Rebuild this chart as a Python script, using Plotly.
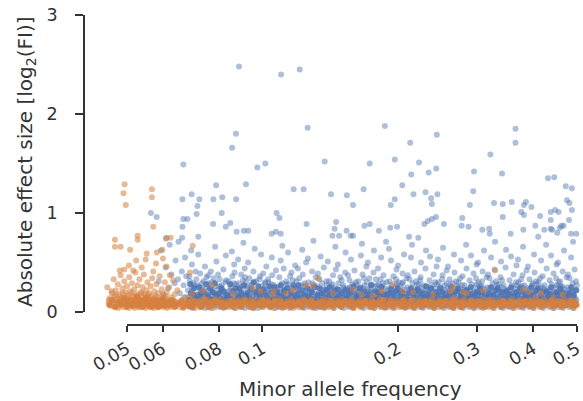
import math
import plotly.graph_objects as go

# ---------------- data ----------------
maf_ticks = [0.05, 0.06, 0.08, 0.1, 0.2, 0.3, 0.4, 0.5]
maf_tick_labels = ["0.05", "0.06", "0.08", "0.1", "0.2", "0.3", "0.4", "0.5"]
effect_ticks = [0, 1, 2, 3]

# blue: (minor allele frequency, absolute effect size)
blue_high = [(.0887,2.48),(.110,2.40),(.121,2.45),(.126,1.86),(.0873,1.80),(.0856,1.66),(.187,1.88),
             (.213,1.71),(.244,1.79),(.365,1.85),(.365,1.71),(.321,1.59),(.0667,1.49),(.0974,1.46),
             (.1015,1.50),(.1375,1.52),(.1731,1.50),(.1968,1.54),(.2141,1.39),(.2228,1.51),(.2341,1.41),
             (.2433,1.45),(.2952,1.42),(.3407,1.40),(.431,1.35),(.445,1.36),(.472,1.27),(.487,1.25)]

blue_mid = [(.0789,1.28),(.0919,1.29),(.0696,1.19),(.0664,1.14),(.0724,1.14),(.0778,1.14),(.0814,1.16),
            (.0874,1.14),(.0717,1.07),(.0714,.99),(.0812,1.00),(.0565,1.00),(.0582,.96),(.0667,.94),
            (.0681,.94),(.0777,.89),(.0848,.90),(.0829,.86),(.0664,.86),(.0909,.82),(.0930,.82),(.0876,.81),
            (.0720,.76),(.0612,.75),(.0663,.75),
            (.1173,1.24),(.1235,1.24),(.142,1.19),(.154,1.18),(.1678,1.24),(.2045,1.28),(.2165,1.19),
            (.1968,1.14),(.1589,1.08),(.1928,1.08),(.1075,1.00),(.1091,.95),(.1253,.89),(.1458,.91),
            (.1685,.87),(.1731,.89),(.1446,.84),(.1815,.82),(.1923,.85),(.1991,.86),(.1048,.79),(.1071,.81),
            (.1098,.79),(.1538,.82),(.143,.77),(.148,.77),(.157,.77),(.159,.77),(.2117,.76),
            (.2304,1.21),(.2447,1.19),(.294,1.22),(.237,1.15),(.238,1.09),(.289,1.08),(.327,1.10),(.342,1.09),
            (.358,1.11),(.381,1.08),(.385,1.11),(.396,1.06),(.376,1.01),(.381,.98),(.475,1.13),(.481,1.10),
            (.447,1.03),(.455,1.01),(.437,1.01),(.414,.97),(.487,1.03),(.480,.93),(.437,.93),(.342,.96),
            (.243,.96),(.238,.94),(.233,.92),(.229,.89),(.253,.89),(.278,.95),(.277,.87),(.287,.86),(.308,.83),
            (.319,.84),(.32,.79),(.356,.79),(.38,.83),(.404,.87),(.423,.83),(.437,.84),(.44,.83),(.458,.85),
            (.462,.87),(.452,.80),(.467,.87),(.485,.79),(.498,.79),(.222,.75),(.41,.76)]

blue_band = [
 (.0588,.31),(.0601,.18),(.0609,.45),(.0595,.62),
 (.0617,.24),(.0628,.38),(.0635,.12),(.0641,.52),(.0622,.68),(.0638,.29),
 (.0649,.33),(.0655,.19),(.0662,.41),(.0668,.27),(.0673,.55),(.0659,.09),(.0677,.36),(.0651,.71),(.0670,.15),
 (.0683,.22),(.0688,.36),(.0692,.13),(.0697,.48),(.0701,.29),(.0706,.18),(.0710,.41),(.0686,.08),(.0699,.25),(.0713,.33),(.0694,.62),(.0704,.11),
 (.0718,.27),(.0722,.16),(.0727,.39),(.0731,.21),(.0736,.09),(.0740,.31),(.0745,.46),(.0749,.14),(.0720,.58),(.0733,.24),(.0742,.19),(.0751,.35),(.0725,.07),
 (.0756,.18),(.0760,.29),(.0764,.12),(.0768,.41),(.0771,.23),(.0775,.08),(.0779,.34),(.0783,.15),(.0787,.26),(.0790,.51),(.0758,.37),(.0773,.2),(.0785,.66),(.0766,.1),
 (.0795,.22),(.0799,.13),(.0803,.33),(.0807,.19),(.0811,.27),(.0815,.06),(.0819,.43),(.0823,.16),(.0827,.3),(.0831,.11),(.0797,.38),(.0813,.24),(.0829,.57),(.0805,.09),
 (.0837,.2),(.0841,.31),(.0845,.14),(.0849,.25),(.0853,.07),(.0857,.36),(.0861,.18),(.0865,.48),(.0869,.12),(.0873,.28),(.0876,.22),(.0839,.1),(.0855,.61),(.0867,.4),
 (.0881,.17),(.0885,.29),(.0889,.09),(.0893,.23),(.0897,.38),(.0901,.14),(.0905,.32),(.0909,.2),(.0913,.44),(.0917,.11),(.0921,.26),(.0883,.53),(.0899,.06),(.0915,.35),(.0907,.7),
 (.0927,.24),(.0931,.13),(.0935,.34),(.0939,.19),(.0943,.08),(.0947,.28),(.0951,.16),(.0955,.41),(.0959,.22),(.0963,.11),(.0967,.31),(.0970,.18),(.0929,.5),(.0949,.05),(.0961,.64),
 (.0975,.21),(.0980,.12),(.0985,.33),(.0990,.17),(.0995,.26),(.1000,.08),(.1004,.39),(.1008,.14),(.1012,.29),(.1016,.2),(.1020,.46),(.0978,.1),(.0993,.58),(.1010,.24),(.0988,.36),
 (.1026,.19),(.1031,.3),(.1036,.11),(.1041,.24),(.1046,.15),(.1051,.37),(.1056,.07),(.1061,.27),(.1066,.18),(.1071,.42),(.1075,.13),(.1029,.33),(.1049,.55),(.1063,.22),(.1039,.09),
 (.1080,.25),(.1085,.14),(.1090,.35),(.1095,.2),(.1100,.1),(.1105,.29),(.1110,.17),(.1115,.44),(.1120,.23),(.1125,.12),(.1130,.31),(.1083,.07),(.1098,.52),(.1117,.19),(.1107,.67),
 (.1137,.18),(.1142,.28),(.1147,.11),(.1152,.36),(.1157,.21),(.1162,.08),(.1167,.32),(.1172,.15),(.1177,.25),(.1182,.47),(.1187,.13),(.1191,.22),(.1140,.6),(.1160,.4),(.1175,.06),
 (.1196,.23),(.1201,.12),(.1207,.34),(.1212,.18),(.1218,.27),(.1223,.09),(.1229,.38),(.1234,.16),(.1240,.29),(.1245,.2),(.1250,.5),(.1254,.13),(.1199,.44),(.1226,.63),(.1215,.07),
 (.1259,.19),(.1265,.3),(.1271,.12),(.1277,.24),(.1283,.15),(.1289,.41),(.1295,.08),(.1301,.27),(.1307,.19),(.1313,.35),(.1319,.11),(.1262,.54),(.1286,.22),(.1310,.06),(.1298,.72),
 (.1325,.26),(.1331,.14),(.1338,.33),(.1344,.19),(.1350,.09),(.1357,.29),(.1363,.17),(.1369,.45),(.1375,.23),(.1382,.12),(.1388,.31),(.1328,.39),(.1347,.56),(.1366,.07),(.1385,.2),
 (.1394,.21),(.1401,.11),(.1408,.31),(.1414,.17),(.1421,.26),(.1428,.07),(.1435,.37),(.1442,.14),(.1449,.24),(.1456,.43),(.1462,.16),(.1397,.51),(.1425,.19),(.1452,.66),(.1411,.09),
 (.1467,.18),(.1475,.29),(.1482,.12),(.1489,.35),(.1497,.21),(.1504,.08),(.1512,.27),(.1519,.15),(.1527,.4),(.1534,.23),(.1539,.11),(.1471,.48),(.1500,.32),(.1530,.6),(.1486,.06),
 (.1545,.24),(.1553,.13),(.1561,.32),(.1569,.19),(.1577,.09),(.1585,.28),(.1593,.16),(.1601,.42),(.1609,.22),(.1617,.12),(.1549,.37),(.1573,.53),(.1597,.07),(.1613,.3),(.1581,.2),
 (.1626,.2),(.1634,.31),(.1643,.11),(.1651,.25),(.1660,.16),(.1668,.38),(.1677,.08),(.1685,.27),(.1694,.18),(.1702,.46),(.1630,.14),(.1655,.57),(.1681,.34),(.1698,.1),(.1664,.69),
 (.1711,.23),(.1720,.13),(.1729,.34),(.1738,.19),(.1747,.28),(.1756,.07),(.1765,.4),(.1774,.16),(.1783,.25),(.1792,.12),(.1715,.5),(.1742,.21),(.1769,.62),(.1787,.33),(.1733,.09),
 (.1801,.17),(.1811,.28),(.1820,.1),(.1830,.33),(.1839,.2),(.1849,.14),(.1858,.37),(.1868,.24),(.1877,.09),(.1887,.3),(.1806,.44),(.1835,.55),(.1863,.18),(.1882,.71),(.1844,.26),
 (.1895,.22),(.1905,.12),(.1915,.31),(.1925,.18),(.1935,.27),(.1945,.08),(.1955,.36),(.1965,.15),(.1975,.25),(.1985,.43),(.1900,.11),(.1930,.52),(.1960,.2),(.1980,.33),(.1910,.64),
 (.1996,.19),(.2006,.3),(.2017,.12),(.2027,.26),(.2038,.16),(.2048,.39),(.2059,.09),(.2069,.23),(.2080,.14),(.2090,.34),(.2001,.47),(.2032,.21),(.2064,.58),(.2085,.06),(.2043,.29),
 (.2100,.25),(.2111,.13),(.2122,.33),(.2133,.2),(.2144,.1),(.2155,.29),(.2166,.17),(.2177,.41),(.2188,.22),(.2199,.12),(.2105,.37),(.2138,.55),(.2171,.07),(.2193,.31),(.2150,.68),
 (.2211,.18),(.2222,.28),(.2234,.11),(.2246,.35),(.2257,.21),(.2269,.08),(.2280,.27),(.2292,.15),(.2303,.44),(.2315,.23),(.2216,.13),(.2251,.5),(.2286,.19),(.2309,.62),(.2240,.32),
 (.2327,.22),(.2339,.12),(.2351,.32),(.2363,.17),(.2376,.27),(.2388,.09),(.2400,.38),(.2412,.14),(.2424,.24),(.2437,.46),(.2333,.07),(.2357,.56),(.2394,.2),(.2418,.3),(.2431,.11),
 (.2449,.2),(.2462,.3),(.2475,.11),(.2488,.25),(.2500,.16),(.2513,.37),(.2526,.08),(.2539,.27),(.2552,.18),(.2565,.42),(.2455,.53),(.2481,.14),(.2519,.65),(.2545,.22),(.2507,.33),
 (.2578,.24),(.2591,.13),(.2605,.33),(.2618,.19),(.2632,.09),(.2645,.29),(.2659,.16),(.2672,.4),(.2686,.21),(.2700,.12),(.2584,.46),(.2625,.06),(.2665,.58),(.2693,.31),(.2611,.27),
 (.2713,.19),(.2727,.3),(.2741,.11),(.2756,.24),(.2770,.15),(.2784,.36),(.2798,.08),(.2813,.27),(.2827,.18),(.2841,.44),(.2720,.13),(.2763,.52),(.2806,.22),(.2834,.68),(.2749,.34),
 (.2855,.23),(.2870,.12),(.2885,.32),(.2900,.18),(.2915,.28),(.2930,.08),(.2945,.39),(.2960,.15),(.2975,.25),(.2990,.48),(.2862,.1),(.2907,.57),(.2952,.2),(.2982,.34),(.2922,.14),
 (.3005,.2),(.3021,.3),(.3037,.12),(.3052,.26),(.3068,.17),(.3084,.41),(.3100,.09),(.3116,.23),(.3132,.14),(.3148,.35),(.3013,.5),(.3060,.19),(.3108,.62),(.3140,.07),(.3076,.31),
 (.3163,.25),(.3180,.13),(.3196,.34),(.3213,.2),(.3229,.1),(.3246,.29),(.3262,.17),(.3279,.43),(.3296,.22),(.3312,.12),(.3171,.38),(.3221,.55),(.3254,.07),(.3304,.31),(.3287,.71),
 (.3329,.18),(.3346,.28),(.3364,.11),(.3381,.35),(.3399,.21),(.3416,.08),(.3434,.27),(.3451,.15),(.3469,.45),(.3486,.23),(.3337,.13),(.3390,.51),(.3442,.19),(.3477,.63),(.3407,.32),
 (.3504,.22),(.3522,.12),(.3541,.32),(.3559,.17),(.3577,.27),(.3596,.09),(.3614,.38),(.3632,.14),(.3651,.24),(.3669,.47),(.3513,.06),(.3568,.56),(.3623,.2),(.3660,.3),(.3587,.11),
 (.3688,.2),(.3707,.3),(.3726,.11),(.3746,.25),(.3765,.16),(.3784,.37),(.3804,.08),(.3823,.27),(.3843,.18),(.3862,.42),(.3697,.53),(.3736,.14),(.3794,.66),(.3833,.22),(.3755,.33),
 (.3881,.24),(.3902,.13),(.3922,.33),(.3943,.19),(.3963,.09),(.3983,.29),(.4004,.16),(.4024,.4),(.4045,.21),(.4065,.12),(.3891,.46),(.3932,.06),(.4014,.58),(.4055,.31),(.3973,.27),
 (.4086,.19),(.4107,.3),(.4129,.11),(.4150,.24),(.4172,.15),(.4193,.36),(.4215,.08),(.4236,.27),(.4258,.18),(.4279,.44),(.4096,.13),(.4161,.52),(.4225,.22),(.4268,.68),(.4140,.34),
 (.4300,.23),(.4323,.12),(.4345,.32),(.4368,.18),(.4390,.28),(.4413,.08),(.4435,.39),(.4458,.15),(.4480,.25),(.4503,.48),(.4311,.1),(.4379,.57),(.4446,.2),(.4492,.34),(.4356,.14),
 (.4526,.2),(.4549,.3),(.4573,.12),(.4597,.26),(.4621,.17),(.4645,.41),(.4668,.09),(.4692,.23),(.4716,.14),(.4740,.35),(.4537,.5),(.4609,.19),(.4680,.62),(.4728,.07),(.4585,.31),
 (.4763,.25),(.4788,.13),(.4813,.34),(.4838,.2),(.4863,.1),(.4888,.29),(.4913,.17),(.4938,.43),(.4963,.22),(.4988,.12),(.4775,.38),(.4850,.55),(.4925,.07),(.4975,.31),(.4900,.71)]

blue_core = [
 (.0685,.15),(.0690,.05),(.0696,.21),(.0702,.1),(.0707,.27),(.0711,.17),(.0689,.31),(.0700,.04),
 (.0716,.12),(.0724,.2),(.0729,.05),(.0734,.29),(.0738,.13),(.0744,.23),(.0747,.04),(.0752,.17),
 (.0755,.09),(.0759,.22),(.0762,.14),(.0767,.04),(.0772,.3),(.0777,.19),(.0782,.06),(.0788,.13),
 (.0794,.16),(.0798,.05),(.0802,.26),(.0809,.11),(.0814,.2),(.0818,.04),(.0825,.14),(.0830,.32),
 (.0836,.13),(.0840,.05),(.0847,.22),(.0851,.16),(.0856,.1),(.0863,.29),(.0868,.04),(.0874,.17),
 (.0880,.12),(.0887,.2),(.0891,.05),(.0895,.16),(.0903,.26),(.0908,.1),(.0912,.04),(.0919,.3),
 (.0925,.15),(.0933,.05),(.0937,.21),(.0941,.11),(.0945,.27),(.0953,.04),(.0957,.17),(.0965,.09),
 (.0973,.16),(.0977,.04),(.0983,.22),(.0987,.07),(.0997,.13),(.1002,.19),(.1006,.05),(.1014,.3),
 (.1024,.1),(.1033,.22),(.1038,.05),(.1043,.16),(.1048,.28),(.1058,.12),(.1068,.04),(.1073,.2),
 (.1078,.16),(.1087,.05),(.1093,.24),(.1102,.13),(.1108,.04),(.1112,.2),(.1122,.09),(.1128,.28),
 (.1135,.1),(.1145,.2),(.1150,.04),(.1155,.15),(.1165,.24),(.1170,.06),(.1180,.13),(.1189,.31),
 (.1194,.14),(.1204,.05),(.1210,.22),(.1220,.11),(.1231,.18),(.1237,.04),(.1243,.26),(.1252,.09),
 (.1257,.13),(.1268,.05),(.1274,.2),(.1280,.1),(.1292,.29),(.1304,.14),(.1316,.04),(.1321,.17),
 (.1323,.1),(.1334,.2),(.1341,.05),(.1353,.15),(.1360,.23),(.1372,.04),(.1379,.13),(.1390,.27),
 (.1392,.14),(.1405,.05),(.1418,.2),(.1424,.1),(.1431,.28),(.1439,.04),(.1446,.17),(.1459,.09),
 (.1465,.11),(.1478,.22),(.1493,.05),(.1501,.15),(.1508,.25),(.1516,.04),(.1523,.13),(.1537,.19),
 (.1543,.16),(.1557,.05),(.1565,.25),(.1579,.12),(.1589,.04),(.1599,.18),(.1605,.1),(.1620,.27),
 (.1624,.1),(.1638,.21),(.1647,.05),(.1657,.14),(.1672,.24),(.1679,.04),(.1689,.16),(.1705,.3),
 (.1709,.15),(.1725,.05),(.1734,.24),(.1751,.11),(.1760,.19),(.1771,.04),(.1778,.13),(.1795,.27),
 (.1799,.11),(.1815,.22),(.1825,.05),(.1833,.14),(.1853,.29),(.1860,.09),(.1872,.04),(.1889,.18),
 (.1893,.16),(.1902,.05),(.1920,.24),(.1928,.1),(.1940,.19),(.1951,.04),(.1970,.13),(.1988,.28),
 (.1993,.12),(.2011,.05),(.2022,.2),(.2035,.1),(.2053,.3),(.2061,.15),(.2075,.04),(.2093,.19),
 (.2097,.14),(.2116,.05),(.2127,.23),(.2136,.11),(.2160,.19),(.2174,.04),(.2182,.15),(.2202,.27),
 (.2207,.1),(.2228,.21),(.2237,.05),(.2254,.15),(.2263,.25),(.2275,.04),(.2298,.12),(.2318,.18),
 (.2324,.15),(.2345,.05),(.2360,.23),(.2369,.11),(.2382,.19),(.2405,.04),(.2415,.13),(.2440,.28),
 (.2445,.13),(.2468,.05),(.2478,.21),(.2494,.1),(.2510,.18),(.2533,.04),(.2548,.14),(.2568,.29),
 (.2574,.16),(.2598,.05),(.2615,.22),(.2621,.11),(.2640,.2),(.2652,.04),(.2679,.13),(.2703,.26),
 (.2709,.1),(.2735,.21),(.2744,.05),(.2759,.16),(.2777,.27),(.2791,.04),(.2820,.14),(.2845,.19),
 (.2851,.15),(.2877,.05),(.2893,.22),(.2912,.1),(.2938,.19),(.2948,.04),(.2967,.12),(.2994,.28),
 (.3000,.13),(.3029,.05),(.3044,.21),(.3056,.1),(.3072,.26),(.3092,.04),(.3124,.16),(.3151,.2),
 (.3159,.16),(.3188,.05),(.3204,.24),(.3217,.11),(.3238,.19),(.3258,.04),(.3283,.14),(.3316,.27),
 (.3324,.1),(.3355,.21),(.3372,.05),(.3386,.15),(.3403,.25),(.3425,.04),(.3460,.13),(.3490,.19),
 (.3500,.15),(.3531,.05),(.3550,.22),(.3563,.1),(.3582,.19),(.3605,.04),(.3641,.14),(.3674,.27),
 (.3683,.13),(.3716,.05),(.3731,.21),(.3751,.1),(.3775,.26),(.3799,.04),(.3838,.16),(.3867,.19),
 (.3876,.16),(.3912,.05),(.3927,.23),(.3953,.11),(.3978,.2),(.3994,.04),(.4035,.14),(.4070,.28),
 (.4081,.1),(.4118,.21),(.4134,.05),(.4156,.15),(.4183,.25),(.4204,.04),(.4247,.13),(.4284,.2),
 (.4295,.15),(.4334,.05),(.4351,.22),(.4362,.1),(.4401,.19),(.4424,.04),(.4469,.14),(.4509,.27),
 (.4520,.13),(.4561,.05),(.4579,.21),(.4603,.1),(.4633,.26),(.4656,.04),(.4704,.16),(.4746,.19),
 (.4757,.16),(.4800,.05),(.4825,.23),(.4844,.11),(.4875,.2),(.4901,.04),(.4950,.14),(.4994,.27)]

blue_dense = [
 (.0687,.12),(.0693,.19),(.0698,.07),(.0705,.24),(.0709,.14),(.0712,.09),(.0691,.28),(.0703,.17),
 (.0719,.09),(.0723,.25),(.0730,.15),(.0735,.07),(.0739,.2),(.0746,.11),(.0750,.28),(.0728,.18),
 (.0757,.16),(.0761,.07),(.0765,.24),(.0769,.13),(.0776,.2),(.0780,.1),(.0784,.29),(.0789,.17),
 (.0793,.1),(.0800,.19),(.0806,.14),(.0810,.24),(.0816,.08),(.0821,.21),(.0826,.12),(.0832,.17),
 (.0838,.17),(.0843,.09),(.0848,.28),(.0854,.13),(.0860,.21),(.0866,.08),(.0871,.24),(.0877,.12),
 (.0884,.15),(.0888,.24),(.0894,.08),(.0898,.19),(.0904,.13),(.0910,.27),(.0914,.1),(.0920,.17),
 (.0926,.19),(.0932,.1),(.0938,.14),(.0944,.23),(.0950,.12),(.0956,.3),(.0962,.07),(.0968,.2),
 (.0974,.1),(.0979,.26),(.0986,.15),(.0992,.2),(.0998,.09),(.1005,.23),(.1011,.11),(.1018,.17),
 (.1025,.14),(.1030,.08),(.1035,.26),(.1044,.11),(.1050,.2),(.1055,.14),(.1064,.25),(.1072,.09),
 (.1079,.2),(.1084,.1),(.1091,.16),(.1097,.27),(.1104,.08),(.1113,.15),(.1119,.22),(.1131,.12),
 (.1136,.24),(.1143,.14),(.1148,.08),(.1156,.19),(.1163,.11),(.1171,.27),(.1178,.17),(.1186,.09),
 (.1197,.18),(.1203,.27),(.1208,.08),(.1216,.14),(.1225,.22),(.1233,.1),(.1241,.17),(.1249,.12),
 (.1258,.24),(.1266,.1),(.1272,.16),(.1279,.07),(.1287,.2),(.1296,.13),(.1306,.25),(.1317,.1),
 (.1326,.17),(.1333,.08),(.1339,.24),(.1346,.12),(.1356,.19),(.1365,.1),(.1376,.15),(.1386,.22),
 (.1396,.08),(.1403,.16),(.1410,.25),(.1420,.12),(.1429,.19),(.1437,.09),(.1448,.22),(.1460,.14),
 (.1468,.23),(.1474,.08),(.1483,.17),(.1492,.12),(.1505,.19),(.1514,.09),(.1526,.22),(.1536,.14),
 (.1547,.1),(.1555,.18),(.1563,.07),(.1572,.22),(.1584,.13),(.1595,.26),(.1607,.09),(.1618,.16),
 (.1628,.16),(.1636,.08),(.1645,.24),(.1654,.12),(.1666,.19),(.1675,.1),(.1687,.21),(.1700,.14),
 (.1713,.09),(.1722,.18),(.1731,.11),(.1744,.27),(.1754,.15),(.1767,.08),(.1781,.21),(.1790,.12),
 (.1803,.2),(.1813,.08),(.1823,.16),(.1837,.25),(.1846,.11),(.1856,.18),(.1870,.07),(.1885,.14),
 (.1897,.1),(.1908,.19),(.1918,.13),(.1932,.23),(.1943,.08),(.1957,.17),(.1967,.11),(.1983,.21),
 (.1998,.24),(.2008,.09),(.2020,.16),(.2030,.12),(.2046,.2),(.2057,.07),(.2072,.15),(.2088,.11),
 (.2102,.09),(.2114,.19),(.2125,.13),(.2141,.24),(.2153,.1),(.2168,.17),(.2180,.08),(.2195,.21),
 (.2213,.23),(.2225,.09),(.2239,.16),(.2249,.12),(.2267,.19),(.2278,.07),(.2295,.14),(.2312,.26),
 (.2330,.09),(.2342,.18),(.2354,.13),(.2372,.24),(.2385,.1),(.2397,.16),(.2421,.07),(.2434,.2),
 (.2452,.17),(.2465,.09),(.2485,.24),(.2497,.13),(.2516,.2),(.2529,.07),(.2542,.15),(.2562,.11),
 (.2581,.09),(.2594,.19),(.2608,.14),(.2628,.25),(.2643,.11),(.2662,.17),(.2675,.08),(.2697,.21),
 (.2716,.24),(.2731,.1),(.2752,.16),(.2767,.12),(.2781,.2),(.2801,.07),(.2816,.14),(.2838,.22),
 (.2858,.09),(.2874,.18),(.2889,.13),(.2904,.25),(.2926,.1),(.2942,.16),(.2964,.07),(.2986,.2),
 (.3009,.17),(.3025,.09),(.3040,.24),(.3064,.13),(.3080,.2),(.3104,.07),(.3120,.15),(.3144,.11),
 (.3167,.09),(.3184,.19),(.3200,.14),(.3225,.25),(.3242,.11),(.3266,.17),(.3291,.08),(.3308,.22),
 (.3333,.24),(.3350,.1),(.3368,.16),(.3394,.12),(.3412,.2),(.3438,.07),(.3455,.14),(.3482,.21),
 (.3508,.09),(.3526,.18),(.3545,.13),(.3572,.25),(.3591,.1),(.3618,.16),(.3637,.07),(.3664,.2),
 (.3692,.17),(.3711,.09),(.3741,.24),(.3760,.13),(.3789,.2),(.3809,.07),(.3828,.15),(.3857,.11),
 (.3886,.09),(.3907,.19),(.3937,.14),(.3958,.25),(.3988,.11),(.4009,.17),(.4040,.08),(.4060,.22),
 (.4091,.24),(.4112,.1),(.4145,.16),(.4167,.12),(.4199,.2),(.4220,.07),(.4252,.14),(.4274,.21),
 (.4306,.09),(.4328,.18),(.4362,.13),(.4384,.25),(.4418,.1),(.4441,.16),(.4475,.07),(.4497,.2),
 (.4531,.17),(.4555,.09),(.4591,.24),(.4615,.13),(.4651,.2),(.4674,.07),(.4710,.15),(.4734,.11),
 (.4769,.09),(.4794,.19),(.4832,.14),(.4857,.25),(.4894,.11),(.4919,.17),(.4956,.08),(.4982,.22)]

# orange: (minor allele frequency, absolute effect size)
orange_left = [
 (.0452,.25),(.0455,.09),(.0458,.14),(.0461,.06),(.0463,.19),(.0465,.11),(.0467,.33),(.0469,.05),(.0470,.16),
 (.0472,.22),(.0474,.08),(.0476,.13),(.0477,.28),(.0479,.04),(.0481,.18),(.0482,.1),(.0484,.37),(.0485,.07),
 (.0487,.15),(.0488,.24),(.0490,.12),(.0491,.05),(.0493,.31),(.0494,.09),(.0496,.2),(.0497,.14),(.0499,.06),
 (.0500,.26),(.0502,.11),(.0503,.17),(.0505,.04),(.0506,.35),(.0508,.08),(.0509,.21),(.0511,.13),(.0513,.29),
 (.0514,.06),(.0516,.16),(.0517,.1),(.0519,.23),(.0520,.04),(.0522,.4),(.0524,.12),(.0525,.18),(.0527,.07),
 (.0528,.27),(.0530,.14),(.0532,.09),(.0533,.33),(.0535,.05),(.0537,.2),(.0538,.11),(.0540,.15),(.0542,.25),
 (.0543,.07),(.0545,.38),(.0547,.12),(.0548,.18),(.0550,.04),(.0552,.22),(.0553,.09),(.0555,.3),(.0557,.14),
 (.0559,.06),(.0560,.19),(.0562,.11),(.0564,.26),(.0566,.05),(.0567,.16),(.0569,.34),(.0571,.08),(.0573,.13),
 (.0575,.21),(.0577,.06),(.0579,.1),(.0581,.28),(.0583,.15),(.0585,.05),(.0587,.19),(.0589,.09),(.0591,.36),
 (.0593,.12),(.0595,.07),(.0597,.23),(.0599,.14),(.0601,.05),(.0603,.17),(.0605,.1),(.0607,.3),(.0609,.08),
 (.0611,.13),(.0613,.2),(.0615,.06),(.0618,.11),(.0620,.25),(.0622,.08),(.0625,.15),(.0627,.05),(.0630,.12),
 (.0633,.32),(.0636,.09),(.0638,.18),(.0641,.06),(.0644,.1),(.0647,.22),
 (.0456,.12),(.0462,.21),(.0468,.09),(.0473,.17),(.0478,.06),(.0483,.13),(.0489,.19),(.0492,.08),(.0498,.11),
 (.0501,.15),(.0507,.07),(.0512,.19),(.0518,.08),(.0523,.14),(.0529,.05),(.0534,.11),(.0539,.19),(.0544,.09),
 (.0549,.13),(.0554,.06),(.0558,.17),(.0563,.08),(.0568,.12),(.0574,.04),(.0578,.16),(.0584,.1),(.0590,.06),
 (.0596,.13),(.0602,.08),(.0608,.16),(.0614,.04),(.0619,.09),(.0626,.12),(.0634,.06),(.0643,.08)]

orange_high = [(.0494,1.29),(.0491,1.20),(.0497,1.08),(.0568,1.24),(.0568,1.16),(.0572,.86),(.0528,.77),
               (.047,.73),(.0528,.73),(.0625,.75),(.047,.66),(.0484,.66),(.0508,.63),(.0553,.59),(.0582,.60),
               (.0599,.63),(.0601,.54),(.058,.49),(.055,.53),(.0524,.52),(.0516,.42),(.0482,.42),(.0493,.43),
               (.0610,.74),(.070,.67),(.069,.40),(.0623,.37),(.0539,.45),(.0572,.41),(.0505,.47),(.0612,.46),
               (.3287,.42),(.2617,.21),(.266,.14),(.284,.19),(.39,.2),(.318,.12),(.405,.15),(.443,.15),
               (.133,.34),(.125,.27),(.099,.21),(.106,.21),(.113,.19),(.166,.18),(.205,.21),(.184,.21)]

orange_band = [
 (.0649,.09),(.0656,.05),(.0663,.12),(.0670,.07),(.0676,.15),(.0666,.04),
 (.0682,.1),(.0689,.06),(.0695,.13),(.0703,.08),(.0709,.04),(.0698,.18),
 (.0717,.07),(.0726,.11),(.0733,.05),(.0741,.14),(.0748,.09),(.0737,.21),
 (.0755,.12),(.0763,.06),(.0770,.09),(.0778,.04),(.0786,.13),(.0774,.27),
 (.0796,.08),(.0804,.12),(.0812,.05),(.0821,.1),(.0829,.07),
 (.0838,.11),(.0846,.06),(.0855,.09),(.0864,.13),(.0872,.04),(.0859,.19),
 (.0882,.07),(.0890,.12),(.0899,.05),(.0908,.1),(.0918,.08),
 (.0928,.11),(.0936,.06),(.0946,.13),(.0956,.04),(.0966,.09),(.0950,.24),
 (.0976,.07),(.0986,.12),(.0996,.05),(.1006,.1),(.1017,.08),
 (.1027,.12),(.1037,.06),(.1047,.09),(.1059,.04),(.1070,.11),(.1052,.17),
 (.1081,.08),(.1092,.13),(.1103,.05),(.1114,.1),(.1126,.07),
 (.1138,.11),(.1149,.06),(.1161,.12),(.1173,.04),(.1185,.09),(.1167,.22),
 (.1198,.07),(.1210,.11),(.1222,.05),(.1235,.13),(.1248,.08),
 (.1261,.1),(.1274,.06),(.1287,.12),(.1300,.04),(.1314,.09),(.1294,.26),
 (.1327,.07),(.1340,.11),(.1354,.05),(.1368,.13),(.1383,.08),
 (.1397,.12),(.1411,.06),(.1426,.09),(.1441,.04),(.1456,.11),(.1433,.19),
 (.1470,.07),(.1486,.12),(.1501,.05),(.1517,.1),(.1533,.08),
 (.1548,.11),(.1564,.06),(.1581,.13),(.1597,.04),(.1614,.09),(.1590,.23),
 (.1630,.07),(.1647,.12),(.1664,.05),(.1682,.1),(.1699,.08),
 (.1716,.11),(.1734,.06),(.1752,.12),(.1771,.04),(.1789,.09),(.1760,.17),
 (.1806,.08),(.1825,.13),(.1844,.05),(.1864,.1),(.1883,.07),
 (.1902,.12),(.1922,.06),(.1942,.09),(.1962,.04),(.1982,.11),(.1950,.28),
 (.2003,.07),(.2024,.11),(.2045,.05),(.2066,.13),(.2088,.08),
 (.2108,.1),(.2130,.06),(.2152,.12),(.2175,.04),(.2197,.09),(.2162,.2),
 (.2219,.07),(.2242,.12),(.2265,.05),(.2289,.1),(.2312,.08),
 (.2335,.11),(.2360,.06),(.2384,.13),(.2409,.04),(.2434,.09),(.2396,.18),
 (.2457,.08),(.2483,.12),(.2509,.05),(.2535,.1),(.2561,.07),
 (.2585,.11),(.2612,.06),(.2639,.12),(.2667,.04),(.2695,.09),(.2650,.25),
 (.2720,.07),(.2748,.11),(.2777,.05),(.2806,.13),(.2835,.08),(.2790,.2),
 (.2862,.1),(.2892,.06),(.2922,.12),(.2952,.04),(.2983,.09),
 (.3013,.07),(.3044,.11),(.3076,.05),(.3108,.13),(.3140,.08),(.3090,.22),
 (.3171,.11),(.3204,.06),(.3238,.12),(.3271,.04),(.3304,.09),
 (.3337,.07),(.3372,.12),(.3407,.05),(.3442,.1),(.3477,.08),
 (.3513,.11),(.3550,.06),(.3587,.13),(.3623,.04),(.3660,.09),
 (.3697,.07),(.3736,.12),(.3775,.05),(.3814,.1),(.3853,.08),(.3794,.23),
 (.3891,.11),(.3932,.06),(.3973,.12),(.4014,.04),(.4055,.09),
 (.4096,.07),(.4140,.11),(.4183,.05),(.4225,.13),(.4268,.08),(.4160,.19),
 (.4311,.1),(.4356,.06),(.4401,.12),(.4446,.04),(.4492,.09),
 (.4537,.07),(.4585,.11),(.4633,.05),(.4680,.13),(.4728,.08),(.4650,.18),
 (.4775,.11),(.4825,.06),(.4875,.12),(.4925,.04),(.4975,.09),(.4860,.07)]

orange_dense = [
 (.0457,.07),(.0464,.12),(.0471,.05),(.0478,.1),(.0486,.08),(.0492,.14),(.0499,.05),(.0504,.09),
 (.0510,.12),(.0515,.06),(.0521,.1),(.0526,.16),(.0531,.07),(.0536,.12),(.0541,.05),(.0546,.1),
 (.0551,.15),(.0556,.08),(.0561,.12),(.0565,.05),(.0570,.1),(.0576,.07),(.0582,.12),(.0588,.05),
 (.0594,.09),(.0600,.13),(.0606,.06),(.0612,.1),(.0621,.07),(.0631,.11),(.0639,.05),
 (.0652,.08),(.0660,.11),(.0668,.05),(.0674,.09),(.0685,.06),(.0692,.1),(.0700,.05),(.0707,.11),
 (.0720,.09),(.0729,.05),(.0738,.08),(.0745,.12),(.0758,.05),(.0767,.1),(.0775,.07),(.0783,.11),
 (.0799,.1),(.0808,.06),(.0817,.09),(.0826,.05),(.0842,.08),(.0851,.11),(.0860,.05),(.0868,.09),
 (.0886,.1),(.0894,.06),(.0903,.08),(.0913,.12),(.0932,.08),(.0941,.05),(.0951,.1),(.0961,.07),
 (.0981,.09),(.0991,.06),(.1001,.12),(.1012,.07),(.1032,.1),(.1042,.05),(.1054,.08),(.1064,.11),
 (.1087,.06),(.1097,.1),(.1108,.08),(.1120,.05),(.1143,.09),(.1155,.05),(.1167,.1),(.1179,.07),
 (.1204,.1),(.1216,.08),(.1228,.05),(.1242,.11),(.1268,.08),(.1281,.11),(.1294,.05),(.1307,.08),
 (.1334,.09),(.1347,.06),(.1361,.1),(.1376,.05),(.1404,.08),(.1419,.11),(.1434,.06),(.1449,.08),
 (.1478,.1),(.1494,.06),(.1509,.08),(.1525,.11),(.1556,.07),(.1573,.1),(.1589,.05),(.1606,.08),
 (.1639,.1),(.1656,.06),(.1673,.08),(.1690,.11),(.1725,.08),(.1743,.05),(.1762,.1),(.1780,.07),
 (.1815,.1),(.1835,.07),(.1854,.12),(.1873,.05),(.1912,.08),(.1932,.11),(.1952,.06),(.1972,.09),
 (.2014,.09),(.2035,.06),(.2056,.11),(.2077,.05),(.2119,.08),(.2141,.11),(.2164,.05),(.2186,.07),
 (.2230,.1),(.2254,.06),(.2277,.08),(.2300,.11),(.2347,.07),(.2372,.1),(.2397,.05),(.2421,.08),
 (.2470,.1),(.2496,.06),(.2522,.08),(.2548,.11),(.2598,.07),(.2625,.09),(.2653,.05),(.2681,.11),
 (.2734,.09),(.2762,.05),(.2791,.1),(.2820,.07),(.2877,.08),(.2907,.11),(.2937,.06),(.2968,.09),
 (.3028,.1),(.3060,.06),(.3092,.09),(.3124,.05),(.3187,.08),(.3221,.1),(.3254,.06),(.3287,.09),
 (.3355,.09),(.3390,.06),(.3425,.11),(.3460,.07),(.3532,.08),(.3568,.1),(.3605,.06),(.3641,.09),
 (.3716,.1),(.3755,.06),(.3794,.08),(.3833,.11),(.3912,.07),(.3953,.1),(.3994,.06),(.4035,.09),
 (.4118,.1),(.4161,.06),(.4204,.09),(.4247,.07),(.4334,.08),(.4379,.11),(.4424,.06),(.4469,.09),
 (.4561,.1),(.4609,.06),(.4656,.09),(.4704,.07),(.4800,.08),(.4850,.11),(.4900,.06),(.4950,.09),(.4990,.07)]

blue_light = blue_band + blue_core + blue_mid + blue_high
orange_light = orange_left + orange_band + orange_high

# ---------------- layout geometry (pixels) ----------------
W, H = 583, 401
L, R, T, B = 84, 0, 10, 76
PW, PH = W - L - R, H - T - B


def fx(px):
    return (px - L) / PW


def fy(py):
    return (H - B - py) / PH


PX_PER_DECADE = 450.0
x0_px, x_left_px, x_right_px = 127, 97, 583
lo = math.log10(maf_ticks[0])
x_range = [lo - (x0_px - x_left_px) / PX_PER_DECADE, lo + (x_right_px - x0_px) / PX_PER_DECADE]

TXT = "#333333"
FONT = "DejaVu Sans"
BLUE = "76,114,176"
ORANGE = "214,127,62"


def add_points(pts, rgb, alpha):
    fig.add_trace(go.Scatter(
        x=[p[0] for p in pts], y=[p[1] for p in pts], mode="markers",
        marker=dict(size=6, color=f"rgba({rgb},{alpha})", line=dict(width=0)),
        hoverinfo="skip", showlegend=False))


fig = go.Figure()
add_points(blue_light, BLUE, 0.45)
add_points(blue_dense, BLUE, 0.85)
add_points(orange_light, ORANGE, 0.55)
add_points(orange_dense, ORANGE, 0.9)

fig.update_layout(
    width=W, height=H,
    margin=dict(l=L, r=R, t=T, b=B, autoexpand=False),
    paper_bgcolor="white", plot_bgcolor="white",
    font=dict(family=FONT, color=TXT, size=17.6),
    xaxis=dict(type="log", range=x_range, domain=[fx(97), 1],
               anchor="free", position=0,
               tickvals=maf_ticks, ticktext=maf_tick_labels, tickangle=-30,
               ticklabeloverflow="allow",
               ticks="outside", ticklen=6, tickwidth=1.8, tickcolor=TXT,
               showline=False, showgrid=False, zeroline=False,
               tickfont=dict(size=17.6, color=TXT, family=FONT)),
    yaxis=dict(range=[0, 3], domain=[fy(312), fy(15)],
               anchor="free", position=0,
               tickvals=effect_ticks, ticktext=[str(v) for v in effect_ticks],
               ticks="outside", ticklen=8, tickwidth=1.8, tickcolor=TXT,
               ticklabelstandoff=14, ticklabeloverflow="allow",
               showline=True, linecolor=TXT, linewidth=1.8,
               showgrid=False, zeroline=False,
               tickfont=dict(size=17.6, color=TXT, family=FONT)),
    shapes=[dict(type="line", xref="paper", yref="paper",
                 x0=fx(127), x1=fx(577), y0=0, y1=0,
                 line=dict(color=TXT, width=1.8))],
    annotations=[
        dict(text="Minor allele frequency", xref="paper", yref="paper",
             x=fx(350), y=fy(389), xanchor="center", yanchor="middle",
             showarrow=False, font=dict(size=20, color=TXT, family=FONT)),
        dict(text="Absolute effect size [log<sub>2</sub>(FI)]", xref="paper", yref="paper",
             x=fx(26), y=fy(162), xanchor="center", yanchor="middle", textangle=-90,
             showarrow=False, font=dict(size=20, color=TXT, family=FONT)),
    ],
)

fig.write_html("out.html", config={"displayModeBar": False})
